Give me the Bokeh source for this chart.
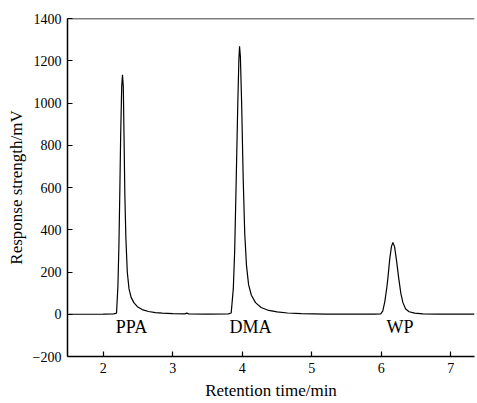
from bokeh.plotting import figure
from bokeh.models import Range1d, FixedTicker, Span, ColumnDataSource, LabelSet, Title
from bokeh.embed import file_html
from bokeh.resources import INLINE

# Chromatogram samples
time_min = [1.50, 2.00, 2.15, 2.19, 2.21, 2.225, 2.237, 2.25, 2.265, 2.276, 2.288, 2.30, 2.31,
            2.325, 2.345, 2.37, 2.40, 2.44, 2.49, 2.56, 2.65, 2.75, 2.85, 3.00, 3.17, 3.20, 3.23,
            3.50, 3.80, 3.84, 3.87, 3.89, 3.912, 3.935, 3.95, 3.96, 3.972, 3.99, 4.013, 4.035,
            4.06, 4.09, 4.13, 4.19, 4.27, 4.38, 4.50, 4.65, 4.85, 5.20, 5.90, 5.99, 6.02, 6.05,
            6.08, 6.094, 6.12, 6.145, 6.166, 6.19, 6.22, 6.25, 6.28, 6.31, 6.35, 6.40, 6.48,
            6.60, 6.80, 7.34]
response_mv = [0, 1, 2, 5, 130, 330, 566, 850, 1080, 1133, 1075, 800, 566,
               360, 200, 120, 80, 55, 36, 22, 13, 8, 5, 3, 2, 5, 2,
               1, 2, 6, 120, 300, 634, 1000, 1200, 1268, 1220, 1000, 634, 380,
               230, 140, 90, 55, 32, 18, 11, 6, 3, 1, 1, 2, 15, 60,
               130, 170, 260, 320, 340, 320, 250, 170, 100, 55, 25, 12, 5,
               2, 1, 1]

peak_names = ["PPA", "DMA", "WP"]
peak_label_x = [2.406, 4.118, 6.27]
peak_label_y = [-88, -88, -88]

x_ticks = [2, 3, 4, 5, 6, 7]
y_ticks = [-200, 0, 200, 400, 600, 800, 1000, 1200, 1400]
x_title = "Retention time/min"
y_title = "Response strength/mV"

FONT = "Liberation Serif"

p = figure(width=477, height=403, output_backend="svg", toolbar_location=None,
           x_range=Range1d(1.485, 7.34), y_range=Range1d(-200, 1400),
           min_border_left=67, min_border_right=3, min_border_top=18, min_border_bottom=47)
p.outline_line_color = None
p.grid.visible = False
p.background_fill_color = "white"
p.border_fill_color = "white"

p.line(time_min, response_mv, line_color="black", line_width=1.2)

src = ColumnDataSource(dict(x=peak_label_x, y=peak_label_y, t=peak_names))
p.add_layout(LabelSet(x="x", y="y", text="t", source=src, text_align="center",
                      text_baseline="alphabetic", text_font=FONT, text_font_size="18px",
                      text_color="black"))

p.add_layout(Span(location=1400, dimension="width", line_color="black", line_width=1.5))

for ax in (p.xaxis[0], p.yaxis[0]):
    ax.axis_line_color = "black"
    ax.axis_line_width = 1.5
    ax.major_tick_line_color = "black"
    ax.major_tick_line_width = 1.2
    ax.major_tick_in = 5
    ax.major_tick_out = 0
    ax.minor_tick_line_color = None
    ax.major_label_text_font = FONT
    ax.major_label_text_font_size = "14px"
    ax.major_label_text_color = "black"
    ax.axis_label_text_font = FONT
    ax.axis_label_text_font_size = "17px"
    ax.axis_label_text_font_style = "normal"
    ax.axis_label_text_color = "black"

p.xaxis[0].ticker = FixedTicker(ticks=x_ticks)
p.yaxis[0].ticker = FixedTicker(ticks=y_ticks)
p.yaxis[0].major_label_overrides = {-200: "\u2212200"}
p.yaxis[0].axis_label = y_title
p.xaxis[0].major_label_standoff = 6
p.yaxis[0].major_label_standoff = 6
p.yaxis[0].axis_label_standoff = 4

p.add_layout(Title(text=x_title, align="center", offset=5, standoff=7,
                   text_font=FONT, text_font_size="17px", text_font_style="normal",
                   text_color="black"),
             "below")

open("out.html", "w").write(file_html(p, INLINE))
